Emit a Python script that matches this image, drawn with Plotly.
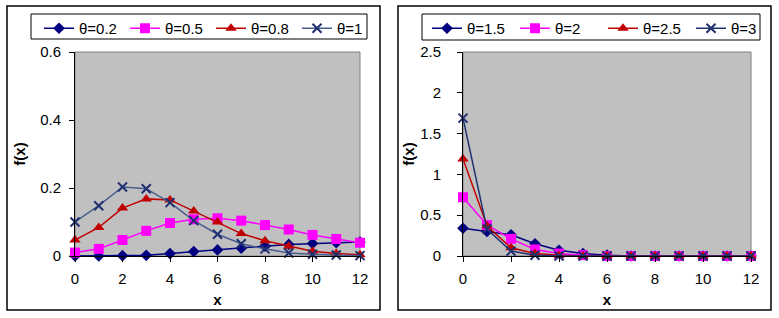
import plotly.graph_objects as go

W, H = 779, 318

x_vals = list(range(13))

# Left chart series
left_names = ["θ=0.2", "θ=0.5", "θ=0.8", "θ=1"]
left_t02 = [0.000, 0.000, 0.001, 0.002, 0.007, 0.013, 0.018, 0.023, 0.029, 0.034, 0.037, 0.039, 0.041]
left_t05 = [0.010, 0.021, 0.047, 0.074, 0.097, 0.108, 0.111, 0.104, 0.091, 0.078, 0.062, 0.050, 0.039]
left_t08 = [0.047, 0.084, 0.141, 0.168, 0.165, 0.132, 0.100, 0.066, 0.045, 0.029, 0.014, 0.007, 0.004]
left_t1 = [0.100, 0.148, 0.203, 0.198, 0.157, 0.104, 0.064, 0.036, 0.021, 0.009, 0.005, 0.003, 0.001]

# Right chart series
right_names = ["θ=1.5", "θ=2", "θ=2.5", "θ=3"]
right_t15 = [0.34, 0.30, 0.26, 0.15, 0.07, 0.03, 0.01, 0, 0, 0, 0, 0, 0]
right_t2 = [0.72, 0.38, 0.21, 0.08, 0.03, 0.01, 0, 0, 0, 0, 0, 0, 0]
right_t25 = [1.19, 0.37, 0.10, 0.03, 0.01, 0, 0, 0, 0, 0, 0, 0, 0]
right_t3 = [1.69, 0.33, 0.06, 0.01, 0, 0, 0, 0, 0, 0, 0, 0, 0]

left_ticks_y = [0, 0.2, 0.4, 0.6]
left_ticks_y_text = ["0", "0.2", "0.4", "0.6"]
right_ticks_y = [0, 0.5, 1, 1.5, 2, 2.5]
right_ticks_y_text = ["0", "0.5", "1", "1.5", "2", "2.5"]
x_ticks = [0, 2, 4, 6, 8, 10, 12]

XMARK = dict(symbol="x-thin", size=9, color="#1F2F6F", line=dict(width=2, color="#1F2F6F"))
styles = [
    dict(line=dict(color="#000080", width=1.5), marker=dict(symbol="diamond", size=9, color="#000080")),
    dict(line=dict(color="#FF00FF", width=1.5), marker=dict(symbol="square", size=10, color="#FF00FF")),
    dict(line=dict(color="#C00000", width=1.5), marker=dict(symbol="triangle-up", size=10, color="#C00000")),
    dict(line=dict(color="#4A5E8E", width=1.5), marker=XMARK),
]
styles_r = [dict(s) for s in styles]
styles_r[3] = dict(line=dict(color="#1F3270", width=1.5), marker=XMARK)

FONT = "Liberation Sans, Arial, sans-serif"

fig = go.Figure()
for name, ys, st in zip(left_names, [left_t02, left_t05, left_t08, left_t1], styles):
    fig.add_trace(go.Scatter(x=x_vals, y=ys, name=name, mode="lines+markers", xaxis="x", yaxis="y",
                             legend="legend", cliponaxis=False, **st))
for name, ys, st in zip(right_names, [right_t15, right_t2, right_t25, right_t3], styles_r):
    fig.add_trace(go.Scatter(x=x_vals, y=ys, name=name, mode="lines+markers", xaxis="x2", yaxis="y2",
                             legend="legend2", cliponaxis=False, **st))

def px(v):
    return v / W

def py(v):
    return 1 - v / H

ydom = [py(256), py(52)]
axis_common = dict(showgrid=False, zeroline=False, showline=True, linecolor="black", linewidth=1,
                   ticks="outside", ticklen=5, tickcolor="black", automargin=False,
                   tickfont=dict(family=FONT, size=15, color="black"))

fig.update_layout(
    width=W, height=H,
    margin=dict(l=0, r=0, t=0, b=0, autoexpand=False),
    paper_bgcolor="white",
    plot_bgcolor="#C0C0C0",
    font=dict(family=FONT, size=15, color="black"),
    xaxis=dict(domain=[px(75), px(360)], range=[0, 12], tickvals=x_ticks, anchor="y", ticklabelstandoff=4,
               title=dict(text="<b>x</b>", standoff=8, font=dict(size=15)), **axis_common),
    yaxis=dict(domain=ydom, range=[0, 0.6], tickvals=left_ticks_y, ticktext=left_ticks_y_text, anchor="x",
               ticklabelstandoff=5,
               title=dict(text="<b>f(x)</b>", standoff=10, font=dict(size=15)), **axis_common),
    xaxis2=dict(domain=[px(463), px(751)], range=[0, 12], tickvals=x_ticks, anchor="y2", ticklabelstandoff=4,
                title=dict(text="<b>x</b>", standoff=8, font=dict(size=15)), **axis_common),
    yaxis2=dict(domain=ydom, range=[0, 2.5], tickvals=right_ticks_y, ticktext=right_ticks_y_text, anchor="x2",
                ticklabelstandoff=13,
                title=dict(text="<b>f(x)</b>", standoff=1, font=dict(size=15)), **axis_common),
    legend=dict(orientation="h", x=px(39), xanchor="left", y=py(12), yanchor="top",
                borderwidth=0, bgcolor="rgba(0,0,0,0)", entrywidth=41, entrywidthmode="pixels",
                font=dict(family=FONT, size=15), itemwidth=30, tracegroupgap=0),
    legend2=dict(orientation="h", x=px(427), xanchor="left", y=py(12), yanchor="top",
                 borderwidth=0, bgcolor="rgba(0,0,0,0)", entrywidth=43, entrywidthmode="pixels",
                 font=dict(family=FONT, size=15), itemwidth=30, tracegroupgap=0),
    showlegend=True,
)

shapes = [
    dict(type="rect", xref="paper", yref="paper", x0=px(7), x1=px(380), y0=py(310), y1=py(6),
         line=dict(color="black", width=1.5), layer="below"),
    dict(type="rect", xref="paper", yref="paper", x0=px(398), x1=px(771), y0=py(310), y1=py(6),
         line=dict(color="black", width=1.5), layer="below"),
    dict(type="rect", xref="paper", yref="paper", x0=px(31), x1=px(367), y0=py(39), y1=py(14),
         line=dict(color="black", width=1), fillcolor="white", layer="below"),
    dict(type="rect", xref="paper", yref="paper", x0=px(422), x1=px(760), y0=py(40), y1=py(14),
         line=dict(color="black", width=1), fillcolor="white", layer="below"),
    dict(type="rect", xref="x domain", yref="y domain", x0=0, x1=1, y0=0, y1=1,
         line=dict(color="#808080", width=1), layer="below"),
    dict(type="rect", xref="x2 domain", yref="y2 domain", x0=0, x1=1, y0=0, y1=1,
         line=dict(color="#808080", width=1), layer="below"),
]
fig.update_layout(shapes=shapes)

fig.write_html("out.html", config={"displayModeBar": False},
               post_script="document.body.style.margin='0';document.body.style.overflow='hidden';")
